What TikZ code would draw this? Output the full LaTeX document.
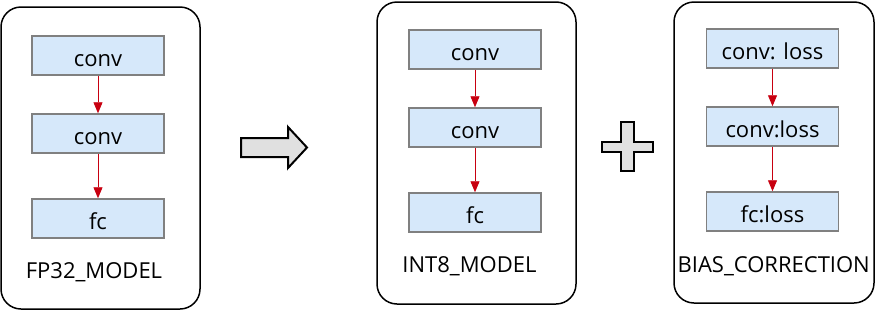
\documentclass[tikz,border=0pt]{standalone}
\usepackage{fontspec}
\setmainfont{Open Sans}
\usetikzlibrary{arrows.meta,positioning}
\definecolor{boxblue}{RGB}{214,232,250}
\definecolor{boxgray}{RGB}{128,128,128}
\definecolor{arrred}{RGB}{200,0,16}
\definecolor{shapegray}{RGB}{224,224,224}
\begin{document}
\begin{tikzpicture}[x=1pt,y=-1pt,>={Triangle[length=11pt,width=9pt]},
 layer/.style={draw=boxgray,line width=1.5pt,fill=boxblue,minimum width=132pt,minimum height=39pt,inner sep=0pt,text height=22pt,text depth=0pt,font=\fontsize{22}{22}\selectfont},
 panel/.style={draw,line width=1.5pt,rounded corners=20pt},
 flow/.style={->,draw=arrred,fill=arrred,line width=0.9pt},
 caption/.style={inner sep=0pt,anchor=base,font=\fontsize{22}{22}\selectfont},
 bigshape/.style={draw,line width=2pt,fill=shapegray}]
\useasboundingbox (0,0) rectangle (883,311);
% the three panels
\draw[panel] (1,7) rectangle (200,309);
\draw[panel] (377,2) rectangle (576,304);
\draw[panel] (674,2) rectangle (874,303);
% layers in each panel
\foreach \p/\x/\y/\a/\b/\c in {fp/98/36/conv/conv/fc,int/475/30/conv/conv/fc,bc/772.5/29/{conv: loss}/conv:loss/fc:loss}{
 \node[layer] (\p1) at (\x,\y+19.5) {\a};
 \node[layer] (\p2) at (\x,\y+97.5) {\b};
 \node[layer] (\p3) at (\x,\y+182.5) {\c};
 \draw[flow] (\p1) -- (\p2);
 \draw[flow] (\p2) -- (\p3);
}
\node[caption] (fpcap) at (94,278) {FP32\_MODEL};
\node[caption] (intcap) at (469.5,272) {INT8\_MODEL};
\node[caption] (bccap) at (773.7,272) {BIAS\_CORRECTION};
% arrow and plus
\draw[bigshape] (241,138) -- (288,138) -- (288,127) -- (307,147.5) -- (288,168) -- (288,157) -- (241,157) -- cycle;
\draw[bigshape] (621,122) -- (634,122) -- (634,142) -- (653,142) -- (653,152) -- (634,152) -- (634,171) -- (621,171) -- (621,152) -- (602,152) -- (602,142) -- (621,142) -- cycle;
\end{tikzpicture}
\end{document}
